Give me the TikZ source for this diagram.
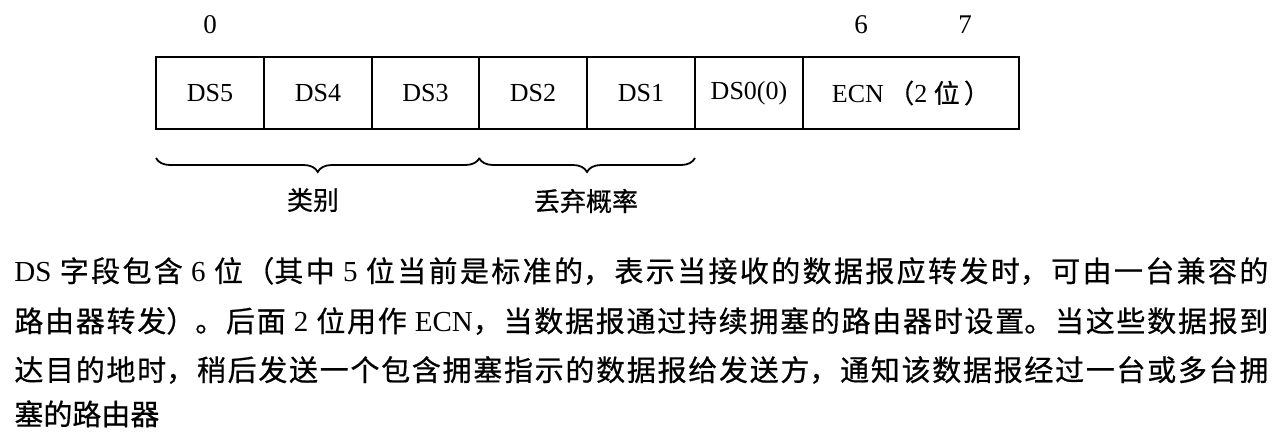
\documentclass[tikz,border=0pt]{standalone}
\usepackage{fontspec}
\setmainfont{Liberation Serif}
\newfontfamily\cjk[FakeBold=0.6]{Noto Sans CJK SC}
\usetikzlibrary{decorations.pathreplacing}
\XeTeXlinebreaklocale "zh"
\XeTeXlinebreakskip=0pt plus 4pt
\newcommand{\jline}[1]{\parbox{627pt}{\parindent=0pt\parfillskip=0pt\fontsize{14.5pt}{18pt}\selectfont #1}}
\tikzset{
  cell/.style={draw, line width=0.9pt, minimum height=36pt, minimum width=54pt, inner sep=0pt, outer sep=0pt, font=\fontsize{13pt}{15pt}\selectfont},
  bitnum/.style={inner sep=0pt, anchor=base, font=\fontsize{13.5pt}{15pt}\selectfont},
  brlabel/.style={inner sep=0pt, font=\cjk\fontsize{13pt}{15pt}\selectfont},
  bracestyle/.style={decorate, decoration={brace, mirror, amplitude=7pt}, line width=0.9pt},
  bodyline/.style={inner sep=0pt, anchor=base west}
}
\begin{document}
\begin{tikzpicture}[x=0.5pt, y=-0.5pt]
\useasboundingbox (0,0) rectangle (1280,446);
% bit numbers
\node[bitnum] (b0) at (210,33) {0};
\node[bitnum] (b6) at (861,33) {6};
\node[bitnum] (b7) at (965,33) {7};
% cells
\node[cell] (c5) at (210,93) {DS5};
\node[cell] (c4) at (318,93) {DS4};
\node[cell] (c3) at (425.5,93) {DS3};
\node[cell] (c2) at (533,93) {DS2};
\node[cell] (c1) at (641,93) {DS1};
\node[cell] (c0) at (749,93) {DS0(0)};
\node[cell, minimum width=108pt] (ecn) at (911,93) {ECN\,{\cjk（}2 {\cjk 位\,）}};
% braces
\draw[bracestyle] ([yshift=-14.5pt]c5.south west) -- ([yshift=-14.5pt]c3.south east);
\draw[bracestyle] ([yshift=-14.5pt]c2.south west) -- ([yshift=-14.5pt]c1.south east);
\node[brlabel] (lab1) at (313,200) {类别};
\node[brlabel] (lab2) at (586,201) {丢弃概率};
% paragraph
\node[bodyline] (l1) at (14,276) {\jline{DS {\cjk 字段包含} 6 {\cjk 位（其中} 5 {\cjk 位当前是标准的，表示当接收的数据报应转发时，可由一台兼容的}}};
\node[bodyline] (l2) at (14,326) {\jline{{\cjk 路由器转发）。后面} 2 {\cjk 位用作} ECN{\cjk ，当数据报通过持续拥塞的路由器时设置。当这些数据报到}}};
\node[bodyline] (l3) at (14,375) {\jline{{\cjk 达目的地时，稍后发送一个包含拥塞指示的数据报给发送方，通知该数据报经过一台或多台拥}}};
\node[bodyline] (l4) at (14,425) {\fontsize{14.5pt}{18pt}\selectfont\cjk 塞的路由器};
\end{tikzpicture}
\end{document}
